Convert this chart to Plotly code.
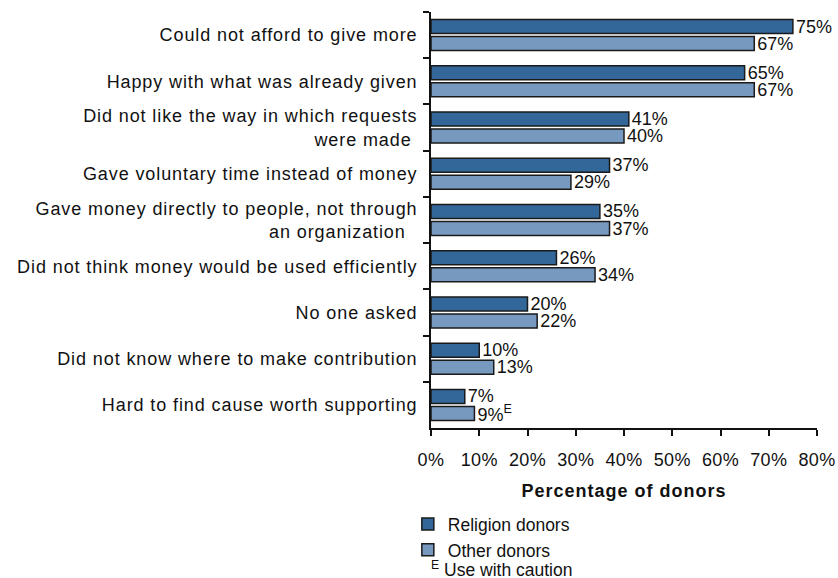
import plotly.graph_objects as go

# Reasons for not giving more, ordered as listed (top to bottom)
reasons = [
    "Could not afford to give more",
    "Happy with what was already given",
    "Did not like the way in which requests<br>were made\u00a0",
    "Gave voluntary time instead of money",
    "Gave money directly to people, not through<br>an organization\u00a0\u00a0",
    "Did not think money would be used efficiently",
    "No one asked",
    "Did not know where to make contribution",
    "Hard to find cause worth supporting",
]
religion_donors = [75, 65, 41, 37, 35, 26, 20, 10, 7]
other_donors = [67, 67, 40, 29, 37, 34, 22, 13, 9]
other_flags = ["", "", "", "", "", "", "", "", "E"]

x_ticks = [0, 10, 20, 30, 40, 50, 60, 70, 80]
x_tick_labels = [f"{v}%" for v in x_ticks]

FONT = "Liberation Sans, Arial, sans-serif"
DARK = "#336699"
LIGHT = "#7899bf"
INK = "#111111"

religion_text = [f"{v}%" for v in religion_donors]
other_text = [f"{v}%" + (f"<sup>{f}</sup>" if f else "") for v, f in zip(other_donors, other_flags)]

fig = go.Figure()
fig.add_trace(go.Bar(
    y=reasons, x=religion_donors, orientation="h", name="Religion donors",
    marker=dict(color=DARK, line=dict(color="#1a1a1a", width=1.5)),
    text=religion_text, textposition="outside", constraintext="none",
    textfont=dict(family=FONT, size=18, color=INK), cliponaxis=False,
    hoverinfo="skip",
))
fig.add_trace(go.Bar(
    y=reasons, x=other_donors, orientation="h", name="Other donors",
    marker=dict(color=LIGHT, line=dict(color="#1a1a1a", width=1.5)),
    text=other_text, textposition="outside", constraintext="none",
    textfont=dict(family=FONT, size=18, color=INK), cliponaxis=False,
    hoverinfo="skip",
))

fig.update_layout(
    width=838, height=578,
    margin=dict(l=431, r=21, t=12, b=150, autoexpand=False),
    paper_bgcolor="white", plot_bgcolor="white",
    barmode="group", bargap=0.264, bargroupgap=0.176,
    font=dict(family=FONT, size=18, color=INK),
    showlegend=True,
    legend=dict(
        x=-0.06, y=-0.188, xanchor="left", yanchor="top",
        font=dict(family=FONT, size=17.5, color=INK),
        tracegroupgap=0, itemwidth=30, bgcolor="rgba(0,0,0,0)",
    ),
    xaxis=dict(
        range=[0, 80], tickvals=x_ticks, ticktext=x_tick_labels,
        showgrid=False, zeroline=False, showline=True, linecolor=INK, linewidth=1.8,
        ticks="outside", ticklen=6, tickwidth=1.8, tickcolor=INK,
        ticklabelstandoff=8, automargin=False,
        tickfont=dict(family=FONT, size=18, color=INK),
        title=dict(text="<b>Percentage of donors</b>", standoff=16,
                   font=dict(family=FONT, size=18, color=INK)),
        fixedrange=True,
    ),
    yaxis=dict(
        autorange="reversed", showgrid=False, zeroline=False,
        showline=True, linecolor=INK, linewidth=1.8,
        ticks="outside", ticklen=6, tickwidth=1.8, tickcolor=INK,
        tickson="boundaries", ticklabelstandoff=8, automargin=False,
        tickfont=dict(family=FONT, size=18, color=INK),
        fixedrange=True,
    ),
    annotations=[dict(
        xref="paper", yref="paper", x=-0.005, y=-0.340, xanchor="left", yanchor="middle",
        text="<sup>E</sup> Use with caution", showarrow=False,
        font=dict(family=FONT, size=17.5, color=INK),
    )],
)

# Slightly open up the lettering of the category labels and axis title
spacing_js = """
document.querySelectorAll('.ytick text').forEach(function(t){
  t.style.letterSpacing = '0.9px';
});
document.querySelectorAll('.xtick text').forEach(function(t){
  t.style.letterSpacing = '0.4px';
});
document.querySelectorAll('.xtitle').forEach(function(t){
  t.style.letterSpacing = '1px';
});
"""

fig.write_html("out.html", config={"displayModeBar": False}, post_script=spacing_js)
